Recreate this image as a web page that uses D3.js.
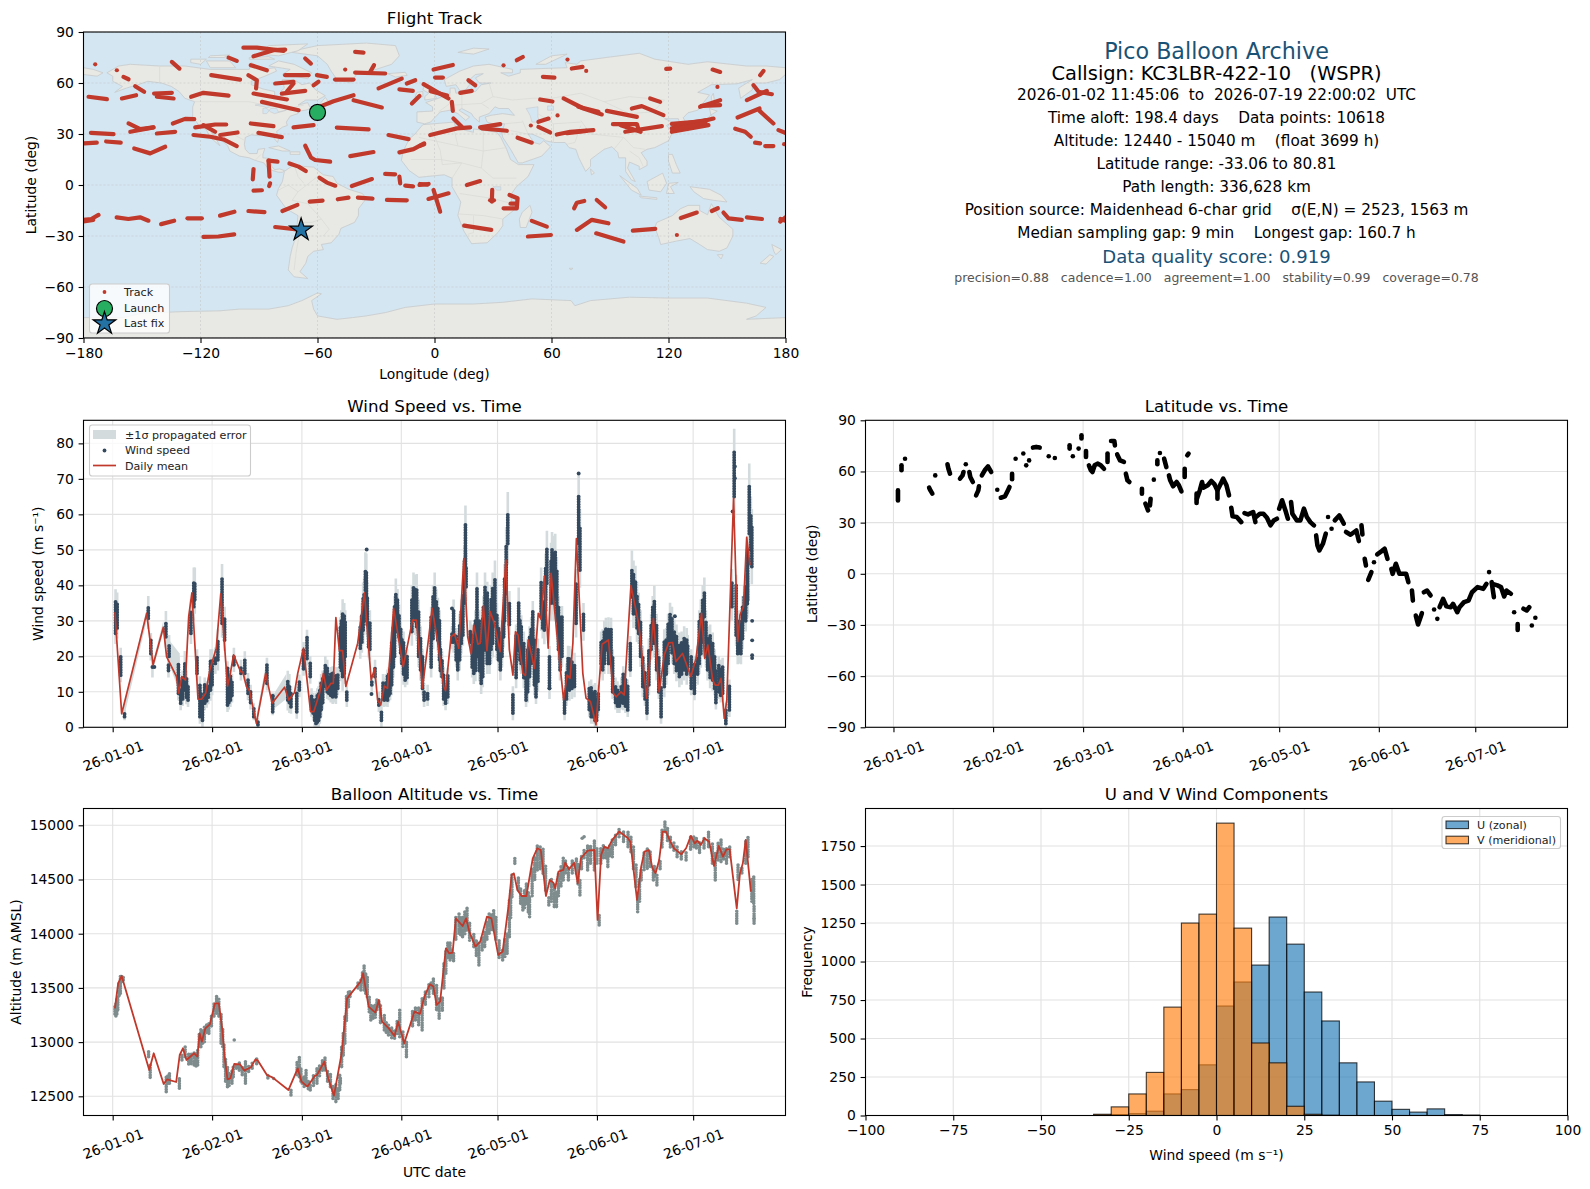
<!DOCTYPE html>
<html>
<head>
<meta charset="utf-8">
<script src="https://cdn.jsdelivr.net/npm/d3@7"></script>
<style>
  body { margin: 0; background: #fff; }
  svg { display: block; font-family: "DejaVu Sans", sans-serif; }
  .tick text { fill: #000; }
</style>
</head>
<body>
<svg id="fig" width="1590" height="1189"></svg>
<script>
// ---- map data, [lon, lat] ----
const landPolys = [
  [[-168,66],[-162,70],[-156,71],[-141,70],[-128,70],[-115,68],[-108,68],[-95,68],[-94,72],[-88,68],[-82,69],[-81,67],[-87,64],[-94,61],[-94,59],[-88,56.5],[-82,55],[-82,52],[-79,51.5],[-79,55],[-77,57],[-78,62],[-72,62],[-68,59],[-64,60],[-61,56],[-56,52.5],[-60,50],[-66,50],[-70,47],[-65,48.5],[-64,46],[-61,46],[-66,44],[-70,43.5],[-70,42],[-74,40.5],[-76,37],[-75.5,35],[-78,34],[-81,31.5],[-80,27],[-80.5,25],[-82,27],[-83,29.5],[-85,30],[-89,30],[-90,29],[-94,29.5],[-97,28],[-97.5,24],[-97,21],[-95,18.5],[-91,18.5],[-90.5,21],[-87,21.5],[-88,18],[-88,16],[-84,15.5],[-83.5,11],[-82,9],[-79.5,9.5],[-77,8.5],[-78,7.5],[-80,7.5],[-83,8.5],[-85.5,10],[-87.5,13],[-92,14.5],[-95,16],[-100,17],[-105,20],[-106,23],[-109,26],[-112.5,29.5],[-114.5,31],[-112,27],[-110,23],[-112,25],[-115,28],[-117,32.5],[-120.5,34.5],[-122,37],[-124,40],[-124,46],[-123,49],[-128,51],[-131,55],[-135,58],[-140,60],[-147,61],[-152,59],[-158,57],[-164,54.5],[-160,58],[-165,61],[-165,64]],
  [[-73,78],[-68,80],[-60,82],[-35,83.5],[-20,82],[-18,76],[-22,71],[-30,68],[-40,65],[-43,60],[-50,62],[-53,67],[-55,71],[-60,76]],
  [[-80,73],[-72,71],[-63,66],[-65,62.5],[-72,64],[-78,65],[-74,68],[-85,70]],
  [[-117,73],[-105,73],[-102,69],[-115,69]],
  [[-90,77],[-85,82],[-65,83],[-70,79],[-80,76]],
  [[-125,74],[-117,74],[-120,71],[-125,72]],
  [[-95,75],[-85,75.5],[-82,74],[-95,74]],
  [[-115,76],[-105,76.5],[-108,75],[-116,75]],
  [[-59,47.5],[-53,47],[-56,51.5]],
  [[-24,65.5],[-15,66.3],[-14,64.5],[-20,63.5]],
  [[-85,22],[-80,23],[-74,20],[-78,20]],
  [[-74,19.5],[-69,19.5],[-69,18],[-74,18]],
  [[-77,8],[-72,12],[-68,11],[-62,10.5],[-57,6],[-52,5],[-50,1],[-44,-2.5],[-37,-5],[-35,-8],[-39,-14],[-39,-18],[-41,-22],[-48,-25.5],[-49,-29],[-53,-34],[-58,-35],[-57,-38],[-62,-39],[-65,-42],[-66,-46],[-69,-51],[-65,-55],[-72,-54],[-75,-50],[-74,-42],[-73,-37],[-71,-30],[-70,-18],[-76,-14],[-81,-6],[-80,-2],[-78,2]],
  [[-6,35.5],[10,37],[11,33.5],[20,31],[20,33],[32,31],[34,28],[37,21],[39,15],[43,12],[51,12],[48,5],[42,-1],[39,-6],[40.5,-15],[35,-20],[35,-24],[32.5,-28],[27,-34],[19,-34.5],[15,-27],[12,-18],[13.5,-10],[9,-1],[9,4],[5,6],[-4,5],[-8,4.5],[-13,8.5],[-17,14.5],[-16,20],[-13,27],[-10,30]],
  [[49,-12],[50,-16],[47,-25],[44,-25],[43.5,-20],[45,-16]],
  [[-9,37],[-9,43],[-1,43.5],[-1,46],[-4.5,48.5],[2,51],[8,54],[8,57],[10.5,57],[11,54],[18,55],[21,55],[24,59],[29,60],[23,60],[21,63],[25,65.5],[21,65],[17,61],[18,59],[16,56],[13,55.5],[11,59],[6,58],[5,62],[13,67],[20,70],[28,71],[40,68],[40,66],[34,66],[38,64],[44,66],[44,68],[55,68.5],[68,69],[67,72],[73,71],[75,73],[88,75],[105,77.5],[113,74],[130,71],[140,72.5],[160,70],[170,70],[180,69],[180,65],[177,62],[170,60],[163,60],[163,56],[157,51],[156,57],[163,62],[155,59.5],[142,59],[135,54.5],[141,53],[135,44],[130,42.5],[127.5,39.5],[129.5,36],[126.5,34.5],[125,39],[121,39],[118,39],[122,37],[119,35],[122,31],[120,26],[113,22],[109,21],[106,19],[109,14],[109,11.5],[105,9],[105,11],[100,13.5],[99,10],[103,2],[101,3],[98,8],[98,16],[94.5,16],[94,19],[91,22.5],[87,21],[80,15],[80,11],[77.5,8],[74,16],[72.5,21],[69,22],[67,25],[61,25],[57,26],[56,27],[50,30],[48,30],[51,25],[54,24],[56,26],[59.5,22.5],[55,17],[45,13],[43,13],[39,21],[35,28],[34.5,31],[36,36],[30,36],[27,37],[26,40],[29,41],[35,42],[41,41],[38,45],[33,45],[31,46],[28,42],[23,40],[23,37],[20,40],[19,42],[14,45],[12.5,44],[18,40],[16,38],[12,42],[8,44],[3,43],[0,39.5],[-2,37],[-5,36]],
  [[-5,50],[1,51],[0,54],[-2,57.5],[-5,58.5],[-6,56],[-3,54],[-5,52]],
  [[-10,52],[-6,52],[-6,55],[-9,54.5]],
  [[130,31.5],[132,34],[136,34],[140,35],[142,40],[141,45],[145,43.5],[141.5,41],[139.5,38],[136,36.5],[131,34]],
  [[142,46],[143.5,50],[143,54],[142,52]],
  [[80,9.5],[82,7],[80.5,6]],
  [[120,18],[122,18],[124,12],[126,7],[122,7],[120,14]],
  [[95,5.5],[104,-2],[106,-6],[101,-3]],
  [[109,2],[117,7],[119,1],[116,-4],[110,-3]],
  [[105,-6.5],[114,-7.5],[114,-8.5],[106,-7.5]],
  [[119,-5],[120,1],[125,1.5],[121,-1],[123,-5]],
  [[131,-1],[141,-2.5],[147,-6],[150,-10],[143,-9],[138,-8],[133,-4]],
  [[114,-22],[122,-18],[126,-14],[130,-12],[136,-12],[136,-15],[140,-17.5],[142,-11],[146,-19],[153,-26],[153,-30],[150,-37],[146,-39],[140,-38],[136,-35],[131,-31.5],[124,-33],[116,-35],[115,-31],[113,-25]],
  [[145,-41],[148,-41],[147,-43.5]],
  [[173,-35],[178,-38],[175,-41],[174,-39]],
  [[172,-41],[174,-42],[170,-46.5],[167,-46]],
  [[52,71],[57,71],[68,77],[60,76]],
  [[12,78],[20,80.5],[28,80],[20,77]],
  [[69,-49],[71,-49],[70,-50]],
  [[-180,65],[-173,64],[-170,66],[-175,68],[-180,69]],
  [[-180,-78],[-160,-78],[-150,-75.5],[-130,-74.5],[-110,-74],[-100,-73],[-85,-73],[-75,-71],[-68,-68],[-60,-63.5],[-58,-64],[-63,-68],[-62,-73],[-60,-77],[-50,-79],[-42,-78],[-35,-77],[-25,-75],[-15,-72],[0,-70],[20,-70],[35,-69],[50,-67],[70,-68],[72,-71],[80,-68],[100,-66],[120,-66.5],[140,-66.5],[160,-69.5],[170,-72],[165,-77],[160,-79],[180,-78],[180,-90],[-180,-90]]
];
const inlandWater = [
  [[47,45],[53,46],[53,40],[54,37],[50,37],[49,41]],
  [[58,46.5],[61,46.5],[61,44],[58,44]],
  [[-92,47],[-85,48.5],[-84,46],[-88,45],[-88,42],[-86,42],[-84,45],[-81,45],[-80,43],[-76,44],[-82,42],[-84,43],[-87,46]],
  [[30,-1],[34,-1],[34,-3],[32,-3]]
];
const borderLines = [
  [[-123,49],[-95,49],[-83,46],[-75,45],[-67,47]],[[-117,32.5],[-106,31.5],[-97,26]],[[-141,70],[-141,60]],
  [[-92,14.5],[-89,18]],[[-60,5],[-70,-4],[-73,-9],[-65,-11],[-58,-20],[-54,-26],[-57,-30]],[[-69,-18],[-69,-27],[-71,-40],[-72,-50]],
  [[-72,12],[-70,5],[-67,1]],[[-80,-3],[-75,0],[-70,-4]],[[-58,-20],[-63,-22],[-69,-22]],
  [[-8,28],[12,23],[25,20],[37,22]],[[25,32],[25,20],[24,10],[30,4],[42,4]],[[3,20],[4,12],[14,13],[24,10]],
  [[13,-5],[30,-8],[40,-11]],[[12,-17],[25,-18],[35,-20]],[[20,-18],[20,-28],[17,-29]],[[-12,15],[3,15],[14,13]],[[9,4],[14,13]],[[-2,35],[3,20]],[[10,33],[12,23]],
  [[50,51],[60,51],[75,54],[87,49]],[[87,49],[100,52],[118,50],[112,43],[100,42],[87,49]],[[75,38],[80,30],[97,28],[102,22],[108,21]],
  [[75,35],[72,25],[68,24]],[[45,38],[48,30]],[[61,36],[61,25]],[[53,42],[61,36],[75,37]],[[36,36],[45,37]],[[39,32],[48,30]],
  [[10,47],[24,48],[30,52],[28,60]],[[2,43],[8,48],[8,54]],[[14,54],[14,45]],[[24,48],[28,45]],[[97,28],[92,21]],[[100,20],[105,16],[107,11]],[[30,52],[40,50],[50,51]]
];
// balloon track, one list per visible arc
const trackArcs = [
  [[-180,-20.5],[-176,-20],[-172.3,-17.6]],[[-180,-21.5],[-175,-20.5]],[[-163,-19],[-157,-20],[-151,-19],[-146.7,-21]],[[-140.2,-23],[-133.5,-21]],[[-126.7,-19.6],[-119.3,-19.6]],
  [[-110,-18],[-102.6,-15.7]],[[-95.4,-15.3],[-87.2,-16]],[[-78,-15.3],[-70.3,-11.7]],[[-64,-9.8],[-57.4,-9.2]],[[-49.6,-8.4],[-44.1,-7.4]],[[-39.3,-7.4],[-31.8,-8]],[[-24.4,-8.8],[-14.2,-9]],
  [[-118.5,-30.5],[-110.8,-30.3],[-102.7,-29]],[[-81.7,-24.7],[-68.4,-26.4]],[[-42.4,-.6],[-32.1,3.5]],[[-59,4.3],[-55.2,1.4],[-50.9,-.4]],[[-74.4,12.7],[-69.7,10.8],[-66,8.2]],
  [[-85.1,14.3],[-84.6,4.9]],[[-85.1,14.3],[-80.5,13.7]],[[-92.8,9.4],[-93.2,3.3]],[[-84.3,1],[-84.8,-.6]],[[-92.8,-3.3],[-88.5,-3.1]],[[-66.3,23.1],[-63.4,16.2],[-61.2,14.7],[-53.5,13.7]],
  [[-43.2,17],[-31.3,19.4]],[[-18,19.2],[-10.8,21.1],[-5.3,24.5]],[[-25.3,6.5],[-20.2,6.3]],[[-18,4.9],[-17.6,1]],[[-15,-.4],[-11,-.8]],[[-7.7,0],[-3,.6]],[[-23.6,29.4],[-13.3,27]],
  [[-50.1,33.7],[-33.8,32.7]],[[-72.3,33.9],[-62,35.2]],[[-90.3,30.7],[-78.3,28.2]],[[-94.2,36.2],[-82.6,34.6]],[[-109.9,29.4],[-101,30.9]],[[-122.7,33.9],[-112.5,35.6],[-106.8,35.6]],[[-118.5,35.2],[-112.5,31.3]],
  [[-123.6,29.4],[-115,28.4],[-108.2,26.8],[-101.4,22.9]],[[-134.2,36.2],[-127.9,38.9],[-123.2,38.7]],[[-142.4,30.3],[-133,31.3]],[[-156.9,36.2],[-150.9,32.9],[-144.1,33.9]],[[-156,31.3],[-144.1,33.9]],
  [[-176.2,30.7],[-164.6,29.9]],[[-179.7,24.5],[-173.2,24.9]],[[-168.4,25.6],[-160.9,24.9]],[[-154,21.5],[-145.8,18.6],[-138.1,22.5]],[[-177.4,51.9],[-168,50.5]],[[-160.3,50.9],[-153,52.8]],
  [[-143.8,53.8],[-134.7,54.2]],[[-142.4,51.9],[-133.8,50.9]],[[-124.8,51.9],[-118.5,54.2],[-105.6,52.6]],[[-114.5,64.6],[-99.7,62]],[[-134.7,72.4],[-130.8,68.5]],[[-153.5,58.1],[-148.9,54.8]],[[-159.5,63.6],[-156.9,62.2]],
  [[-162.9,67.5]],[[-174,71]],[[-92.8,53.8],[-75.7,50.3]],[[-88.5,48.9],[-69.7,44]],[[-58.1,46.4],[-51.8,49.3],[-41.5,52.8]],[[-41.5,49.9],[-27,45.6]],[[-28.7,56.8],[-16.8,62.6]],
  [[-18,56.2],[-11.1,55.4]],[[-14.2,59.7],[-9.9,61.6]],[[-11.6,47.9],[-7.7,52.3]],[[-40.7,66.1],[-25.3,65.6]],[[-33,66.5],[-31,70.5]],[[-51,62],[-41.5,62]],[[-40.7,78.3],[-36.4,77.9]],[[-45.8,67.9]],
  [[-66.3,74.4],[-63.4,71.4]],[[-60.3,64.6],[-55.2,63.6]],[[-62,58.7],[-59.5,60.7]],[[-98,80.8],[-91.1,80.8],[-77.4,78.9]],[[-92.8,75.7],[-82.6,79.3],[-76.6,79.6]],[[-105.6,74.9],[-101.4,73]],[[-94.2,70.5],[-86,67.5]],
  [[-95.4,64.6],[-91.1,61.6],[-91.5,56.8]],[[-81.7,59.7],[-72.3,60.7]],[[-76.6,64.6],[-64.6,64.6]],[[-78.3,53.8],[-66.3,55.4]],[[-75.7,55],[-72.3,59.7]],
  [[-.5,67.9],[9.4,70.6]],[[.3,63.2],[4.3,63.2]],[[-5.6,59.3],[1.2,54.8],[7.2,50.9]],[[-2,55.2],[6.5,52.6]],[[8.9,48.9],[9.4,43.6]],[[17.4,61.6],[20.9,58.7]],[[13.2,54.2],[19.1,55.4]],[[35.4,70.4]],[[42.2,73.4],[45.3,75.3]],
  [[68.2,73.8]],[[70.4,68.5],[75.9,69.5]],[[77.8,67.1]],[[55.6,63.6],[61.5,63.2]],[[118.8,68.3],[120.9,68.5]],[[142.6,67.9],[146.5,66.5]],[[168.7,67.1],[167,64.6]],[[145.1,57.7]],
  [[163.6,58.7],[166.2,54.8],[173,53.4]],[[160.2,49.9],[170.4,55.4]],[[136.2,46],[146.5,49.9]],[[137,46.5],[146.5,47]],[[155.4,39.7],[166.7,45]],[[166.7,43.6],[173.8,36.2]],[[154.2,33.1],[159.3,31.3],[162.2,28.4]],
  [[164.4,24.9],[167,24.5]],[[169.6,22.9],[173.8,22.9]],[[176.4,32.3],[179.8,30.7]],[[179.3,24]],
  [[121.7,33.3],[143.1,39.1]],[[121.7,31.3],[140.5,35.2]],[[123.4,35.2],[139.7,38.2]],[[121.7,36],[137,37.5]],[[122,32.5],[139,36.5]],
  [[97.8,31.3],[116.6,34.6]],[[91.5,35.8],[103.8,35.8],[104.6,32.7]],[[95.5,35.2],[105.7,31.3]],[[88.4,43.6],[103.8,40.1]],[[101.2,45],[106.3,46.4],[117.4,41.1]],[[110.6,50.9],[115.7,48.9]],
  [[66.2,50.9],[76.4,45],[85.8,41.5]],[[73.8,46],[84.1,43]],[[54.2,50.3],[60.5,49.1]],[[63.1,40.9]],[[49.4,35]],[[53.3,37.2],[58.5,39.1]],[[53.3,34.2],[59.3,30.9]],[[62.7,29.7],[69.6,31.3],[81.5,32.3]],[[68,30.5],[78,31.8]],[[42.6,27.8],[49.9,24.9]],
  [[-2.2,29.4],[11.5,33.3],[18.3,33.9]],[[9.7,39.1],[14,34.2]],[[23.4,33.9],[33.7,35.8]],[[24.3,33.3],[37.1,31.9]],[[-7.4,23.1],[-5.3,24]],[[-7.4,.6],[-3.6,.2]],[[-3.1,-8.2],[7.2,-4.9]],[[-.5,-2.9],[2.9,-15.7]],
  [[16.6,0],[23.4,2.3]],[[29.6,-2.9],[29.4,-9.8]],[[28.5,-9],[30.5,-9]],[[38.5,-5.9],[42.6,-7.8],[42.2,-13.7],[35.4,-13.7]],[[39,-11],[42,-11]],[[15.2,-23.9],[29.1,-26.4]],[[49.9,-21.1],[57.6,-24.5]],[[47.9,-30.3],[59.7,-29.4]],
  [[73,-26.4],[80.7,-20.5],[89.2,-22.5]],[[82.9,-28.4],[96.9,-33.3]],[[71.6,-13.7],[73,-10.4],[76.8,-9.4]],[[83.2,-8.8],[87.5,-13.1]],[[101.7,-26.8],[113.2,-25.8]],[[124.3,-29.4]],[[126.3,-19.4],[134.5,-16.2]],[[142.2,-15.3],[145.3,-13.7]],
  [[148.2,-16.2],[150.8,-19.6],[157.6,-20.5]],[[160.2,-19],[167.9,-20]],[[177.3,-21.5],[180,-19]],[[177.5,-20],[180,-21]]
];
const launchFix = [-60, 42.7];
const lastFix = [-68.4, -26.4];

// ---- wind speed, day = days since 2026-01-01 ----
const windMeanDay = [.7,2.8,10.6,12.6,15.8,16.8,19.9,20.6,21.5,22.7,23.7,24.7,26.6,27.7,29,30.3,32.3,33.7,35.8,36.5,37.7,39.9,40.6,41.7,42.7,44.8,47.7,49.7,53.6,54.9,56.7,57.7,59.5,61.7,62.7,64.5,65.7,66.7,68.1,68.8,69.6,70.7,71.7,72.7,76.4,78.5,80.6,81.7,82.6,83.6,84.7,85.7,87.6,90.6,93.5,94.7,96.6,98.7,99.6,101.1,103.2,103.8,105.5,106.6,107.9,109.5,110.7,111.8,112.6,113.9,114.6,115.6,116.7,117.7,119,120.8,122.6,123.7,124.8,125.6,126.4,127.9,128.7,129.6,131.5,132.7,133.6,134.6,135.8,136.7,138.8,140.6,141.7,142.6,143.5,144.6,146.6,147.6,149,150.7,152.6,154.6,156.1,157,158.5,159.5,161.6,164,166.5,168.6,170.4,172,173.4,174.6,175.6,177.7,180.3,181.9,183.6,184.6,185.6,187.1,187.9,188.9,189.7,190.7,191.5,193.6,194.9,195.6,196.7,197.7,198.7];
const windMeanVal = [32.4,3.8,32.1,17.6,28.2,19.9,14.3,9.6,14.3,13.3,31.2,37.9,7.9,7.9,9.6,16.2,22.3,37.6,11.6,14.3,20.4,15.7,15.5,11.5,10.2,1.1,15.2,6.8,11.3,7.7,9.8,15.2,22.3,4.4,4.4,9.6,15.2,10.5,12.4,12.4,30.9,21.6,21.6,11.5,23.7,37.9,13.3,16.6,7.7,6.3,11.6,11,33.5,17.1,30.2,30.2,11,26.5,33.5,25.5,11.5,10.3,25.5,26.3,22.3,47.6,25.5,20.7,28.8,23.4,23.7,34.2,21.6,32.6,29.3,21.3,47.1,21.8,14.7,26.9,26,15.2,14.6,24.6,16.6,32.1,30.4,42.6,22.3,43.4,23.7,7.7,14.7,13.8,23.7,53.2,15.2,8.2,7.2,.7,23.4,24.6,9.6,8.6,10,9.1,39.9,29.3,8.2,30.7,10,20.4,23.8,23.9,18.5,20.8,14.3,19.4,32.1,19.4,23.2,13.3,11.9,11.9,13.8,2.5,7.7,64.5,24.1,31.6,34,53.5,45.7];
// clusters of wind speed points: [day, lowest, highest, sigma margin]
const windRuns = [
  [.9,26.5,35.9,3],[1.4,28,35,3],[2.5,14.7,20.4,2],[3.7,3,4,1],[11.1,30.7,34,3],[11.9,20.8,24.6,2],[12.4,17,17.3,3],[16.6,25.5,29.8,3],[17.6,20,23,3],[17.4,16,17.5,2],
  [20.5,9.6,17.8,2],[21.2,6.8,11,2],[21.8,8,14,2],[22.5,10.5,18.5,3],[23,8.5,14,2],[23.5,7.7,12,2],[24.4,26.5,33,3],[25.3,34,41,4],[25.6,36,41,4],[26.3,15.2,20,2],[27.2,3,12.4,2],[27.6,3.5,10,2],[28,2,7.7,2],[28.7,6.8,12,2],[29.3,7.5,11,2],
  [29.8,8.5,12,2],[30.5,10.5,19,3],[31,12,19,3],[32,18,19.5,3],[32.8,19,24.6,3],[34.1,29.3,42,4],[34.9,24.6,31,3],[35.8,6.3,16.6,2],[36.2,7,15,2],[36.7,7.7,14.3,2],[37.2,9,13,2],[37.8,17.6,20.4,2],[40,15.2,17,2],[41.2,15.2,19.4,2],[42.2,9.6,13.3,2],[43,7,10,2],
  [44,3,5.8,1],[45.3,.7,1.6,1],[48.1,12.4,17.6,2],[49.9,4.4,8.8,1],[54.6,7.7,12.9,3],[55.1,7,12,3],[55.6,5.8,9.6,2],[57.4,4.4,9.6,2],[58.2,10.5,12.9,2],[59.5,16.5,22,2],[60.6,19.4,25.5,2],[61.6,14.3,18,2],
  [62,5,9,2],[62.5,4,7.7,2],[63,2,7,2],[63.4,1.1,7.7,2],[63.8,1.5,9,2],[64.2,2,9.6,2],[64.6,3,11,2],[65,5,13,2],[65.5,7,14,2],[66.3,11.5,18,2],[66.9,10,17,2],[67.4,9.6,14.3,2],[68,9,15,2],[68.6,8.6,15.2,2],[69,9,14,2],[69.6,8.6,15,2],[70.2,11,15,2],[71,17,28,3],[71.3,16,30,3],[71.7,14.3,32.1,4],[72.2,15.2,32,3],[72.5,20,30,3],[73,7.7,10.5,2],
  [77.2,22.3,28.4,3],[77.7,24,32,3],[78.1,27.4,36.8,4],[78.4,30,38,4],[78.8,38.7,44.3,5],[79.1,34,44,5],[79.4,29,37,4],[79.8,22.7,29.3,3],[80.2,22,30,3],[80.8,12,13,2],[81.8,14.3,17,2],[83,6.3,8,2],[83.8,2,4.4,2],[84.3,8,13,2],[84.7,7.7,12,2],[85.2,8,13,2],[85.7,7.7,14.3,2],[86.1,9,15,2],[86.5,9.6,16.2,2],
  [87,12,24,3],[87.5,17,28.4,3],[87.9,20,34,3],[88.3,29.3,37.9,4],[88.8,27,36,3],[89.3,25.5,31.6,3],[89.8,21,28,3],[90.2,18,24.6,3],[90.7,15,24,3],[91.2,13.3,20,2],[91.8,14,20,2],[93.3,27,36,4],[93.8,31.2,39.6,4],[94.3,30,39,4],[94.8,28.4,39.2,4],[95.4,20,33,3],[96,16.2,25.5,3],[96.6,11,20,2],[97.1,7.7,10.5,2],[98.2,8,10,2],
  [99.3,17,31,3],[99.9,25,37,3],[100.4,31.2,39.6,4],[100.9,28,36,3],[101.4,24.6,33.5,3],[101.9,19,30,3],[102.2,16,22,2],[102.7,14.3,19.4,2],[103.2,8,15,2],[103.8,6.8,10.5,2],[104.5,8.6,14.7,2],[105.8,24,26.5,2],[106.3,24,33,3],[107.1,19,26,2],[107.6,16.2,23.7,3],[108.2,19,29,3],[108.7,23.7,33,3],[109.2,26,37,3],[109.7,35,47,4],[110,45.3,57.5,5],[110.2,39.6,45.3,4],
  [111.5,24,27,3],[112.1,17,26,3],[112.6,15.2,23.7,3],[113.1,16,30,3],[113.6,19.9,39.6,4],[114.3,16,30,3],[114.9,12.4,23.7,3],[115.4,14.3,31,3],[115.6,22,34,3],[116.1,21.8,39.6,4],[116.8,18,38,3],[117.5,18,31,3],[118,22,36,4],[118.5,23.7,39.6,4],[119.2,30.5,42,5],[119.8,22,32,3],[120.3,19,28,3],[120.9,16.2,21.8,3],[121.4,20,27,3],[121.9,25.5,30,3],[122.2,30,42,4],
  [122.7,37.7,51.4,5],[123.2,51.8,60.3,6],[123.7,29,35.4,3],[124.8,4,9.6,2],[125.8,14,26,3],[126.6,21.8,35.4,4],[127,19,30,3],[127.4,18,28.6,3],[128.2,14,24,3],[128.9,7.7,14.3,2],[129.4,10,22,3],[130,14.3,25.5,3],[130.5,18,28,3],[131,23.7,32.6,3],[131.5,12,25,3],[132,8.6,19,2],[132.6,13,22,3],
  [133.6,31.2,41,4],[134.1,28,36,3],[134.6,27.4,34,4],[135,33,45,4],[135.4,40.6,50.4,5],[136.2,11,19.9,3],[136.7,35,47,5],[137,36.8,50,5],[137.5,35,49,5],[138,36.8,49.5,5],[138.5,30,44,4],[139,22,34,3],[139.5,16.2,31.2,3],[140.1,20,31.2,3],[140.9,4,8.6,2],[141.5,8,16,2],[142,12,20,3],[142.4,10.5,19.9,3],[143.2,11,19,3],[144,11.5,18,3],
  [144.5,29.3,40.6,4],[145.3,51.8,65,6],[145.7,44.3,56.5,5],[146.8,27.4,32,3],[148.6,5,11,2],[149.2,3,11.5,2],[149.8,3,10,2],[150.4,2,10.5,2],[150.9,2,8,2],[151.4,5,10,2],[152.3,18,24,3],[152.8,16.2,24.6,3],[153.3,18,27,3],[153.8,21.8,27.9,3],[154.6,18,28,3],[155.4,18,27.9,3],[155.9,10,20,2],[156.8,7,12,2],[157.4,6,11,2],[158,6,10,2],[158.6,7,12,2],[159.2,6.8,15.2,2],[159.9,6,14,2],[160.6,4.9,11.5,2],[161.4,16.2,23.7,2],
  [161.9,36.8,44.8,5],[162.4,32,43,4],[163,32.1,41.5,4],[163.5,28,37,4],[164,26.5,34.9,3],[164.6,20,30,3],[165.3,11.5,20,3],[166,8,16,2],[166.6,4,11.5,2],[167.2,12,22,3],[167.9,22,29,3],[168.4,25,34,3],[168.9,23.7,35.9,4],[169.6,16.2,29,3],[170.3,10,20,2],[171,3,11.5,2],[172,11.5,24.6,3],[172.6,15,25,3],[173.2,18,29,3],[173.8,23.7,32.1,3],[174.4,21,31,3],[175.1,18,27.4,3],[175.8,16,26,3],[176.7,14.3,23.7,3],[177.4,15,24,3],[178.2,16.2,25.5,3],[179,15,25,3],[179.3,17,23,3],[180.4,11,20,2],[181.4,9.6,18,2],[182.4,15,20,3],
  [182.9,18,30,3],[183.4,20.8,32.1,4],[184,24,36,4],[184.5,31.2,38.2,4],[185,20,30,3],[185.5,16.2,25.5,3],[186.3,14,26,3],[187.1,13.3,23.7,3],[187.7,11,20,2],[188.1,7,16,2],[189,10,18,2],[189.6,9,17,2],[190.2,9.6,17.6,2],[191.2,1.1,4.9,2],[192.3,4.9,11.5,2],
  [193.1,34,40.6,4],[193.8,65,78.1,6],[194.4,26,40,3],[194.9,20.8,29.3,3],[195.4,21,30,3],[195.9,20.8,29.3,3],[196.4,25,34,3],[196.9,30.7,36.8,3],[197.4,30,40,3],[197.9,34.9,43.4,4],[198,36,50,4],[198.5,54.6,68.3,6],[199,50,60,5],[199.3,45.3,56.5,5]
];
// lone wind speed points outside the clusters, [day, speed]
const windLone = [[79.2,50.1],[80.7,9.4],[105.8,33.5],[114,28],[145.3,71.5],[194,73.5],[194,70.2],[193.3,60.8],[175.3,31.3],[199.4,30],[199.4,24.5],[199.4,20.3],[199.4,19.5],[136.2,11],[49.9,8.8],[13,17]];
// sigma band in the stretches with few fixes: [day, lower, upper]
const windBandGaps = [
  [[3.4,2.5,6],[10.6,30,33.5]],
  [[12.7,16.5,19],[15.8,27,30]],
  [[16.8,20,25.5],[20.9,9.6,20.8]],
  [[44.8,.5,3],[47.7,13,17.5]],
  [[50,5,9],[54.1,8,15]]
];

// ---- latitude, arcs of fixes [day, lat] ----
const latArcs = [
  [[1.4,48.9],[1.4,46],[1.4,43]],[[2.5,63.6],[2.5,60.7]],[[3.6,67.5]],[[11.1,50.5],[11.5,48.9],[12.1,47]],[[13,57.7]],[[16.8,64.2],[17.1,61.6],[17.6,58.7]],
  [[20.7,55.8],[21.5,57.7],[21.8,59.7]],[[22.5,64.2]],[[23.6,59.7],[23.9,56.8],[24.7,53.8]],[[25.7,46],[26.4,48.9],[26.6,51.3]],[[27.5,57.7],[28.4,60.7],[29.4,63],[30.4,59.7]],[[32.3,49.3]],
  [[33.4,44.6],[34.7,45.4],[35.6,48.9],[36.1,50.9]],[[36.9,58.7],[36.9,55.4]],[[38,67.5]],[[40.4,70.5]],[[41.3,63.6]],[[42.2,66.5]],[[43.4,74],[44.4,74.4],[45.5,74]],[[48.3,68.9]],[[50.2,67.9]],
  [[54.8,75.3],[54.8,73.4]],[[55.8,68.9]],[[57.6,73.4]],[[58.5,81.2],[58.5,79.3]],[[59.9,72],[59.9,68.5]],[[60.8,63.6],[61.4,60.7],[61.9,59.7],[62.6,63.6],[63.5,64.6],[64.5,63.6],[65.5,61.6]],[[66.6,70.5],[66.6,65.6]],
  [[67.7,77.9],[68.7,77.9],[68.9,75.3]],[[69.6,70],[70.5,66.5],[71.7,65.6]],[[72.3,58.7],[72.8,54.8],[73.4,53.8]],[[77.3,49.9],[77.3,47]],[[78.4,41.1],[79.2,37.2]],[[80,44],[79.8,40.1]],[[81,55.2]],[[82.1,66.5],[82.1,64.2]],[[82.9,70.8]],
  [[84.2,67.5],[84.9,62.6]],[[85.7,57.7],[86.1,54.8],[87,51.3],[88.1,53.8],[88.8,51.9],[89.6,48.3]],[[90.6,61.6],[90.6,56.8]],[[91.4,69.5],[91.8,70.5]],
  [[94.3,47],[94.3,41.5]],[[94.4,44],[95.3,48.9],[96,53.8],[96.4,50.5],[97.8,51.9],[98.9,54.4],[99.9,52.4],[100.8,48.9],[100.8,44]],[[100.8,49],[101.7,52.4],[102.6,55.8],[103.6,51.9],[104.4,46]],
  [[105.1,38.7],[105.5,33.7],[106.8,33.3],[108.2,30.3]],[[109.2,35.6],[110.3,34.8],[111.9,36.2],[112.6,30.3]],[[112.6,33],[114,35.2],[115.1,35.2],[116.2,32.9],[117.3,28.4],[118.3,31.3],[119.3,32.3]],
  [[120,38.2],[120.9,43.1],[122.1,36.2],[122.7,32.3]],[[123.7,42.1],[124.1,35.2],[125.5,31.3],[126.6,31.3],[127.7,38.2],[128.6,33.3],[129.7,30.3],[130.8,28.4]],
  [[131.5,22.5],[131.9,16.6],[132.5,13.7],[133.6,17.6],[134.5,23.5]],[[135.2,33.3]],[[136.3,26.4]],[[137.3,31.3],[138.7,34.2],[140.1,29.4]],[[140.8,24.5],[142.2,22.9],[144,25.4],[144.8,19.2]],[[145.6,28.4],[145.9,23.1]],
  [[146.6,8.8],[147,4.9]],[[147.7,-3.5],[148.7,1]],[[149.5,6.8]],[[150.5,11.4],[151.9,13.3],[152.8,14.7],[153.7,8.8]],[[154.9,2.9],[155.3,0],[156.3,5.9],[157.4,0],[159.5,0],[160.2,-4.9]],
  [[161.3,-9.8],[161.6,-15.7]],[[162.5,-24.5],[163.2,-29.7],[164.4,-23.1]],[[165,-10.8],[166,-9.8],[167.1,-12.7]],[[168.2,-20.9]],[[169.2,-26.4]],
  [[169.9,-19.6],[171,-14.7],[172,-19],[173.4,-19.6],[174.1,-17.6],[175.4,-22.5],[176.1,-19.6],[177.5,-16.6],[178.9,-15.7],[180,-10.8],[181.7,-7.8],[183.5,-8.8],[184.5,-5.9]],[[185.3,1]],[[186.1,-4.9],[186.8,-13.7]],[[186.4,-6],[187.9,-6.8],[189,-7.8],[190,-13.3],[190.7,-9.8],[192.1,-11.7]],
  [[193.1,-22.5]],[[194.2,-29.4],[194.2,-32.9]],[[196,-20.5],[197,-21.5],[197.8,-19.6]],[[198.6,-30.3]],[[199.7,-25.8]]
];

// ---- altitude ----
const altMeanDay = [.7,1.7,2.8,11.4,12.8,15.9,17,19.8,20.9,21.9,23,25.4,26.4,27.1,27.8,28.9,30.3,31.9,33.1,34.2,34.9,35.8,36.7,37.9,39.7,41,43.1,44.5,45.3,48.1,49.8,54.8,57.7,58.9,60.7,63,63.7,66,67.2,69,71.4,73.1,77.3,78.1,79.8,81.9,83,84,86.1,87.9,89,90.9,94.1,95.8,97.2,98.9,100,101,102.1,103.9,104.9,106,107,109.1,110.2,111.2,113.1,114.6,116.7,118.1,120.2,121.6,123.4,124.4,125.1,126.2,127.5,129,131,132.4,133.5,135.1,136.3,137.4,138,139,140.5,141.1,142.3,143.9,145,146,148.1,150.2,151.2,152.3,153.3,154.4,155.8,157.9,160.7,161.4,163.5,164.8,165.8,167.2,168.3,169.3,170.4,171.5,172.5,173.9,175,177.3,178.8,180.3,181.5,182.3,183.4,184.5,186,187.5,189,190.3,191.4,192.4,194.6,195.6,196.5,197.4,199];
const altMeanVal = [13312,13542,13610,12743,12897,12614,12657,12632,12881,12943,12835,12897,12866,13081,13004,13127,13164,13358,13358,13112,12866,12657,12666,12798,12795,12737,12768,12841,12829,12697,12675,12558,12758,12635,12589,12688,12697,12820,12666,12506,12897,13404,13558,13635,13327,13272,13389,13189,13127,13057,13189,12989,13281,13260,13419,13533,13512,13343,13373,13865,13819,13825,14142,14071,14142,14019,13881,13927,14157,14142,13804,13835,14250,14542,14557,14403,14348,14348,14696,14788,14772,14348,14496,14471,14419,14573,14588,14655,14594,14655,14465,14696,14766,14772,14127,14726,14803,14788,14865,14942,14880,14849,14311,14619,14757,14772,14603,14557,14680,14942,14942,14849,14788,14732,14788,14902,14834,14858,14819,14880,14849,14625,14809,14711,14778,14778,14234,14557,14649,14865,14388];
// clusters of altitude points: [day, lowest, highest]
const altRuns = [
  [.7,13260,13340],[1,13241,13358],[1.3,13260,13400],[1.6,13300,13420],[2,13430,13560],[2.4,13450,13619],[2.8,13560,13620],[3.3,13573,13610],[11.2,12866,12912],[11.7,12675,12804],[16.7,12543,12697],[17.2,12620,12700],[17.7,12620,12712],[20.8,12574,12681],[21.6,12835,12897],[22.6,12866,12958],[23.7,12798,12897],[24.5,12800,12900],[25.4,12789,12912],[26,12780,12910],[26.5,12789,12928],[27,12960,13090],[27.5,12958,13127],[28,12990,13110],[28.6,13004,13143],[29.3,13090,13160],[30,13081,13173],[30.8,13150,13250],[31.6,13240,13370],[32.4,13266,13435],[33.1,13240,13400],[33.8,12989,13266],[34.3,12960,13120],[34.7,12774,12989],[35.2,12640,12850],[35.8,12589,12774],[36.3,12600,12720],[37.2,12620,12743],[37.6,12680,12790],[38.6,12760,12800],[39.5,12740,12810],[40.4,12700,12780],[41.4,12620,12820],[42.4,12730,12790],[43.5,12760,12820],[44.9,12800,12860],[48.4,12670,12700],[50.2,12665,12680],[55.6,12512,12574],
  [57.5,12700,12820],[58.2,12681,12866],[58.7,12640,12760],[59.1,12620,12680],[59.7,12590,12690],[60.3,12605,12743],[61,12570,12640],[61.6,12558,12620],[62.6,12600,12700],[63.7,12620,12774],[64.5,12690,12790],[65.4,12740,12830],[66.2,12743,12857],[67,12640,12740],[67.9,12589,12712],[68.7,12480,12600],[69.6,12451,12620],[70.3,12480,12580],[70.8,12560,12700],[71,12620,12680],[71.4,12774,12958],[71.9,12880,13100],[72.4,12989,13235],[72.9,13200,13430],[73.5,13327,13465],[74,13420,13470],[76.5,13500,13560],[77.4,13481,13573],[77.9,13550,13660],[78.4,13481,13712],[78.9,13450,13640],[79.4,13419,13604],[80,13280,13420],[80.5,13204,13358],[81.2,13220,13340],[81.9,13230,13358],[82.4,13300,13400],[83,13330,13389],[83.5,13180,13340],[84.7,13112,13250],[85.3,13090,13190],[86,13066,13173],[87,13040,13130],[87.9,13035,13112],[88.7,13080,13200],[89.5,13050,13296],[90.5,12960,13100],[91.6,12866,13004],[93.5,13150,13300],[94.4,13204,13327],[95.4,13160,13320],[96.5,13112,13419],[97.5,13350,13470],[98.6,13419,13530],[99.3,13500,13560],[100,13450,13604],[101,13300,13530],[101.8,13220,13419],[102.8,13295,13419],
  [103.3,13500,13740],[103.9,13635,13850],[104.5,13780,13920],[105.2,13758,13927],[105.7,13780,13860],[106.3,13750,13830],[107,13950,14160],[108,14004,14188],[108.5,13990,14150],[109.1,13973,14157],[109.8,14000,14220],[110.5,14034,14250],[111.3,13940,14100],[112.6,13881,14004],[113.4,13800,13950],[114.2,13712,13912],[115.2,13850,13980],[116,13881,14034],[116.7,13950,14120],[117.4,14004,14188],[118.1,14040,14180],[118.8,14034,14219],[119.5,13950,14150],[120.5,13780,13950],[121.6,13758,13850],[122.3,13790,13960],[123,13819,14004],[123.7,13973,14311],[124.1,14150,14400],[124.5,14342,14557],[125.4,14649,14711],[126.5,14403,14520],[127.2,14280,14420],[127.9,14219,14342],[128.4,14240,14400],[129,14280,14465],[129.6,14200,14380],[130,14157,14342],[130.8,14350,14600],[131.6,14500,14720],[132.4,14588,14819],[133.3,14600,14800],[134.2,14557,14788],[135,14400,14640],[136,14265,14342],[136.8,14300,14500],[137.7,14250,14465],[138.4,14250,14400],[139,14350,14560],[139.8,14440,14620],[140.5,14496,14696],[141.2,14560,14680],[142.1,14496,14620],[143.3,14560,14680],[144.6,14557,14711],[145.1,14460,14640],[145.7,14357,14496],[146.2,14600,14720],[147,14700,14780],[148.1,14588,14819],[149,14650,14810],[150.2,14588,14865],[151,14650,14800],[151.7,14080,14188],[152.2,14650,14790],[153,14700,14819],[153.8,14700,14810],[154.4,14619,14788],[155,14720,14830],[155.8,14710,14865],[156.8,14820,14930],[157.9,14895,14972],[159.3,14850,14950],[160.7,14803,14942],[161.6,14757,14895],[162.4,14600,14820],[163.2,14434,14634],[163.7,14203,14342],[164.3,14300,14520],[164.8,14496,14603],[165.7,14590,14760],[166.7,14603,14788],[167.6,14620,14770],[168.6,14496,14588],[168.9,14530,14620],[169.7,14450,14557],[170.7,14600,14680],[171.3,14800,14960],[172.2,14942,15043],[173,14860,14980],[173.9,14800,14895],[175,14770,14850],[176,14711,14803],[177.3,14690,14770],[178.8,14680,14760],[180.2,14780,14900],[181.2,14803,14912],[182,14790,14890],[183,14750,14840],[184.4,14790,14890],[185.8,14803,14942],[187,14650,14830],[187.9,14496,14742],[188.8,14680,14850],[189.7,14665,14865],[190.5,14690,14790],[191.4,14650,14803],[192.4,14710,14803],[194.6,14096,14219],[195,14500,14640],[196.2,14560,14610],[197.4,14650,14850],[198.1,14711,14895],[199.3,14300,14500],[199.9,14280,14527],[200,14096,14265]
];
const altLone = [[37.9,13020],[147,14895],[200,14140],[146.4,14880]];

// ---- U and V histogram ----
const binStarts = [-35,-30,-25,-20,-15,-10,-5,0,5,10,15,20,25,30,35,40,45,50,55,60,65,70];
const binWidth = 5;
const uCounts = [3,6,12,28,140,168,329,711,867,977,1289,1113,802,614,342,218,93,40,22,43,6,3];
const vCounts = [8,56,140,280,704,1250,1308,1899,1217,471,342,60,8,2,0,0,0,0,0,0,0,0];

// ---- ticks and labels ----
const dateTickDays = [0,31,59,90,120,151,181];
const dateTickLabels = ["26-01-01","26-02-01","26-03-01","26-04-01","26-05-01","26-06-01","26-07-01"];
const lonTicks = [-180,-120,-60,0,60,120,180];
const latTicks = [-90,-60,-30,0,30,60,90];
const windTicks = [0,10,20,30,40,50,60,70,80];
const altTicks = [12500,13000,13500,14000,14500,15000];
const histXTicks = [-100,-75,-50,-25,0,25,50,75,100];
const histYTicks = [0,250,500,750,1000,1250,1500,1750];
const infoLines = [
  "2026-01-02 11:45:06  to  2026-07-19 22:00:02  UTC",
  "Time aloft: 198.4 days    Data points: 10618",
  "Altitude: 12440 - 15040 m    (float 3699 h)",
  "Latitude range: -33.06 to 80.81",
  "Path length: 336,628 km",
  "Position source: Maidenhead 6-char grid    σ(E,N) = 2523, 1563 m",
  "Median sampling gap: 9 min    Longest gap: 160.7 h"
];

const RED = "#c0392b", NAVY = "#1a5276", SLATE = "#34495e", ASH = "#7f8c8d", GRID = "#e2e2e2", BAND = "#d3dbdc";
const svg = d3.select("#fig");
const mono = d => String(d).replace("-", "−");
const L = 83.5, R = 785.5, L2 = 865.5, R2 = 1567.5;

function panel(x0, x1, y0, y1, title) {
  const g = svg.append("g");
  const clipId = "clip" + Math.round(x0) + "_" + Math.round(y0);
  g.append("clipPath").attr("id", clipId).append("rect").attr("x", x0).attr("y", y0).attr("width", x1 - x0).attr("height", y1 - y0);
  const plot = g.append("g").attr("clip-path", `url(#${clipId})`);
  const top = g.append("g");
  top.append("rect").attr("x", x0).attr("y", y0).attr("width", x1 - x0).attr("height", y1 - y0)
    .attr("fill", "none").attr("stroke", "#000").attr("stroke-width", 1.1);
  top.append("text").attr("x", (x0 + x1) / 2).attr("y", y0 - 8.3).attr("text-anchor", "middle")
    .attr("font-size", 16.67).text(title);
  return { plot, top, x0, x1, y0, y1 };
}

function grid(p, x, y, xv, yv) {
  p.plot.selectAll(null).data(xv).enter().append("line")
    .attr("x1", x).attr("x2", x).attr("y1", p.y0).attr("y2", p.y1).attr("stroke", GRID).attr("stroke-width", 1.1);
  p.plot.selectAll(null).data(yv).enter().append("line")
    .attr("y1", y).attr("y2", y).attr("x1", p.x0).attr("x2", p.x1).attr("stroke", GRID).attr("stroke-width", 1.1);
}

function axes(p, x, y, xv, yv, xfmt, yfmt) {
  const ax = p.top.append("g").attr("transform", `translate(0,${p.y1})`)
    .call(d3.axisBottom(x).tickValues(xv).tickFormat(xfmt).tickSize(4.9).tickPadding(4.8));
  const ay = p.top.append("g").attr("transform", `translate(${p.x0},0)`)
    .call(d3.axisLeft(y).tickValues(yv).tickFormat(yfmt).tickSize(4.9).tickPadding(4.8));
  [ax, ay].forEach(a => {
    a.select(".domain").remove();
    a.selectAll("line").attr("stroke", "#000").attr("stroke-width", 1.1);
    a.selectAll("text").attr("font-size", 13.89).attr("font-family", '"DejaVu Sans", sans-serif');
  });
  return ax;
}

function dateAxis(ax) {
  ax.selectAll("text").attr("y", 0).attr("dy", "0.35em").attr("text-anchor", "middle")
    .attr("transform", "translate(0,28.5) rotate(-20)");
}

function axisLabels(p, xlabel, ylabel, xpos, ypos) {
  if (xlabel) p.top.append("text").attr("x", (p.x0 + p.x1) / 2).attr("y", xpos).attr("text-anchor", "middle").attr("font-size", 13.89).text(xlabel);
  p.top.append("text").attr("transform", `translate(${ypos},${(p.y0 + p.y1) / 2}) rotate(-90)`)
    .attr("text-anchor", "middle").attr("font-size", 13.89).text(ylabel);
}

function legendBox(p, x, y, w, h) {
  p.top.append("rect").attr("x", x).attr("y", y).attr("width", w).attr("height", h).attr("rx", 2.8)
    .attr("fill", "#fff").attr("fill-opacity", 0.8).attr("stroke", "#ccc").attr("stroke-width", 1.1);
}
function legendText(p, x, y, s) {
  p.top.append("text").attr("x", x).attr("y", y).attr("dy", "0.35em").attr("font-size", 11.11).attr("fill", "#222").text(s);
}

function drawMap() {
  const p = panel(L, R, 32, 338, "Flight Track");
  const x = d3.scaleLinear().domain([-180, 180]).range([L, R]);
  const y = d3.scaleLinear().domain([-90, 90]).range([338, 32]);
  const geo = d3.line().x(d => x(d[0])).y(d => y(d[1]));
  p.plot.append("rect").attr("x", L).attr("y", 32).attr("width", R - L).attr("height", 306).attr("fill", "#d4e6f1");
  p.plot.selectAll(null).data(landPolys).enter().append("path")
    .attr("d", d => geo(d) + "Z").attr("fill", "#e8e8e4").attr("stroke", "#c6cacc").attr("stroke-width", 0.8);
  p.plot.selectAll(null).data(inlandWater).enter().append("path")
    .attr("d", d => geo(d) + "Z").attr("fill", "#d4e6f1").attr("stroke", "#c6cacc").attr("stroke-width", 0.6);
  p.plot.selectAll(null).data(borderLines).enter().append("path")
    .attr("d", geo).attr("fill", "none").attr("stroke", "#dadbd8").attr("stroke-width", 0.8);
  // dotted graticule
  p.plot.selectAll(null).data(lonTicks).enter().append("line")
    .attr("x1", x).attr("x2", x).attr("y1", 32).attr("y2", 338).attr("stroke", "#bbb").attr("stroke-opacity", 0.6).attr("stroke-width", 0.7).attr("stroke-dasharray", "2,2");
  p.plot.selectAll(null).data(latTicks).enter().append("line")
    .attr("y1", y).attr("y2", y).attr("x1", L).attr("x2", R).attr("stroke", "#bbb").attr("stroke-opacity", 0.6).attr("stroke-width", 0.7).attr("stroke-dasharray", "2,2");
  p.plot.selectAll(null).data(trackArcs).enter().append("path")
    .attr("d", d => d.length > 1 ? geo(d) : geo([d[0], d[0]]))
    .attr("fill", "none").attr("stroke", RED).attr("stroke-width", 4.2).attr("stroke-linecap", "round").attr("stroke-linejoin", "round");
  p.plot.append("circle").attr("cx", x(launchFix[0])).attr("cy", y(launchFix[1])).attr("r", 8)
    .attr("fill", "#27ae60").attr("stroke", "#000").attr("stroke-width", 1.2);
  const star = d3.symbol().type(d3.symbolStar);
  p.plot.append("path").attr("d", star.size(160)()).attr("transform", `translate(${x(lastFix[0])},${y(lastFix[1])})`)
    .attr("fill", "#2471a3").attr("stroke", "#000").attr("stroke-width", 1.2);
  axes(p, x, y, lonTicks, latTicks, mono, mono);
  axisLabels(p, "Longitude (deg)", "Latitude (deg)", 379, 36);
  legendBox(p, 89.5, 284, 80, 49);
  p.top.append("circle").attr("cx", 104.5).attr("cy", 292).attr("r", 1.9).attr("fill", RED);
  p.top.append("circle").attr("cx", 104.5).attr("cy", 308.5).attr("r", 8).attr("fill", "#27ae60").attr("stroke", "#000").attr("stroke-width", 1.2);
  p.top.append("path").attr("d", star.size(160)()).attr("transform", "translate(104.5,323.5)").attr("fill", "#2471a3").attr("stroke", "#000").attr("stroke-width", 1.2);
  legendText(p, 124, 292, "Track");
  legendText(p, 124, 308, "Launch");
  legendText(p, 124, 323.5, "Last fix");
}

function drawInfo() {
  const cx = 1216.5;
  const t = (y, s, size, fill) => svg.append("text").attr("x", cx).attr("y", y).attr("dy", "0.35em").attr("text-anchor", "middle")
    .attr("font-size", size).attr("fill", fill).attr("xml:space", "preserve").text(s);
  t(51, "Pico Balloon Archive", 22.22, NAVY);
  t(73.5, "Callsign: KC3LBR-422-10   (WSPR)", 19.44, "#000");
  const ys = [94.5, 117.5, 140.5, 163.5, 186.5, 209.5, 232.5];
  infoLines.forEach((s, i) => t(ys[i], s, 15.28, "#000"));
  t(257, "Data quality score: 0.919", 18.06, NAVY);
  t(278, "precision=0.88   cadence=1.00   agreement=1.00   stability=0.99   coverage=0.78", 12.5, "#555");
}

function dayScale(x0, x1, d0, d1) {
  return d3.scaleLinear().domain([d0, d1]).range([x0, x1]);
}

function drawWind() {
  const p = panel(L, R, 420.3, 727.3, "Wind Speed vs. Time");
  const x = dayScale(L, R, -9.1, 209.8);
  const y = d3.scaleLinear().domain([0, 86.5]).range([727.3, 420.3]);
  grid(p, x, y, dateTickDays, windTicks);
  // sigma margin behind the clusters
  p.plot.selectAll(null).data(windRuns).enter().append("line")
    .attr("x1", d => x(d[0])).attr("x2", d => x(d[0]))
    .attr("y1", d => y(Math.max(d[1] - d[3], 0))).attr("y2", d => y(d[2] + d[3]))
    .attr("stroke", BAND).attr("stroke-width", 2.6);
  const band = d3.area().x(d => x(d[0])).y0(d => y(d[1])).y1(d => y(d[2]));
  p.plot.selectAll(null).data(windBandGaps).enter().append("path").attr("d", band).attr("fill", BAND);
  // clusters drawn as strings of dots
  p.plot.selectAll(null).data(windRuns).enter().append("line")
    .attr("x1", d => x(d[0])).attr("x2", d => x(d[0])).attr("y1", d => y(d[1])).attr("y2", d => y(d[2]))
    .attr("stroke", SLATE).attr("stroke-width", 3.9).attr("stroke-linecap", "round").attr("stroke-dasharray", "0 2.6");
  p.plot.selectAll(null).data(windLone).enter().append("circle")
    .attr("cx", d => x(d[0])).attr("cy", d => y(d[1])).attr("r", 1.95).attr("fill", SLATE);
  const line = d3.line().x((d, i) => x(windMeanDay[i])).y(d => y(d));
  p.plot.append("path").attr("d", line(windMeanVal)).attr("fill", "none").attr("stroke", RED).attr("stroke-width", 1.7).attr("stroke-linejoin", "round");
  dateAxis(axes(p, x, y, dateTickDays, windTicks, (d, i) => dateTickLabels[i], mono));
  axisLabels(p, null, "Wind speed (m s⁻¹)", 0, 43);
  legendBox(p, 89.5, 425, 161, 51);
  p.top.append("rect").attr("x", 93).attr("y", 430).attr("width", 23).attr("height", 9).attr("fill", BAND);
  p.top.append("circle").attr("cx", 104.5).attr("cy", 450.5).attr("r", 1.9).attr("fill", SLATE);
  p.top.append("line").attr("x1", 93).attr("x2", 116).attr("y1", 465.5).attr("y2", 465.5).attr("stroke", RED).attr("stroke-width", 1.7);
  legendText(p, 125, 435.5, "±1σ propagated error");
  legendText(p, 125, 450.5, "Wind speed");
  legendText(p, 125, 466, "Daily mean");
}

function drawLatitude() {
  const p = panel(L2, R2, 420.3, 727.3, "Latitude vs. Time");
  const x = dayScale(L2, R2, -8.7, 209.7);
  const y = d3.scaleLinear().domain([-90, 90]).range([727.3, 420.3]);
  grid(p, x, y, dateTickDays, latTicks);
  const line = d3.line().x(d => x(d[0])).y(d => y(d[1]));
  p.plot.selectAll(null).data(latArcs).enter().append("path")
    .attr("d", d => d.length > 1 ? line(d) : line([d[0], d[0]]))
    .attr("fill", "none").attr("stroke", "#000").attr("stroke-width", 4.6).attr("stroke-linecap", "round").attr("stroke-linejoin", "round");
  dateAxis(axes(p, x, y, dateTickDays, latTicks, (d, i) => dateTickLabels[i], mono));
  axisLabels(p, null, "Latitude (deg)", 0, 817);
}

function drawAltitude() {
  const p = panel(L, R, 808.5, 1115.5, "Balloon Altitude vs. Time");
  const x = dayScale(L, R, -9.1, 209.8);
  const y = d3.scaleLinear().domain([12323, 15155]).range([1115.5, 808.5]);
  grid(p, x, y, dateTickDays, altTicks);
  p.plot.selectAll(null).data(altRuns).enter().append("line")
    .attr("x1", d => x(d[0])).attr("x2", d => x(d[0])).attr("y1", d => y(d[1])).attr("y2", d => y(d[2]))
    .attr("stroke", ASH).attr("stroke-width", 3.6).attr("stroke-linecap", "round").attr("stroke-dasharray", "0 2.4");
  p.plot.selectAll(null).data(altLone).enter().append("circle")
    .attr("cx", d => x(d[0])).attr("cy", d => y(d[1])).attr("r", 1.8).attr("fill", ASH);
  const line = d3.line().x((d, i) => x(altMeanDay[i])).y(d => y(d));
  p.plot.append("path").attr("d", line(altMeanVal)).attr("fill", "none").attr("stroke", RED).attr("stroke-width", 1.8).attr("stroke-linejoin", "round");
  dateAxis(axes(p, x, y, dateTickDays, altTicks, (d, i) => dateTickLabels[i], mono));
  axisLabels(p, "UTC date", "Altitude (m AMSL)", 1177, 21);
}

function drawHist() {
  const p = panel(L2, R2, 808.5, 1115.5, "U and V Wind Components");
  const x = d3.scaleLinear().domain([-100, 100]).range([L2, R2]);
  const y = d3.scaleLinear().domain([0, 1994]).range([1115.5, 808.5]);
  grid(p, x, y, histXTicks, histYTicks);
  const bars = (counts, color) => p.plot.selectAll(null).data(counts).enter().append("rect")
    .attr("x", (d, i) => x(binStarts[i])).attr("width", x(binWidth) - x(0))
    .attr("y", d => y(d)).attr("height", d => y(0) - y(d))
    .attr("fill", color).attr("fill-opacity", 0.65).attr("stroke", "#000").attr("stroke-opacity", 0.75).attr("stroke-width", 1.1);
  bars(uCounts, "#1f77b4");
  bars(vCounts, "#ff7f0e");
  axes(p, x, y, histXTicks, histYTicks, mono, mono);
  axisLabels(p, "Wind speed (m s⁻¹)", "Frequency", 1160, 812);
  legendBox(p, 1442, 816.5, 118.5, 32);
  [["#1f77b4", "U (zonal)", 824.8], ["#ff7f0e", "V (meridional)", 840]].forEach(r => {
    p.top.append("rect").attr("x", 1446).attr("y", r[2] - 3.8).attr("width", 22.5).attr("height", 7.6)
      .attr("fill", r[0]).attr("fill-opacity", 0.65).attr("stroke", "#000").attr("stroke-opacity", 0.75).attr("stroke-width", 1.1);
    legendText(p, 1477, r[2], r[1]);
  });
}

drawMap();
drawInfo();
drawWind();
drawLatitude();
drawAltitude();
drawHist();
</script>
</body>
</html>
